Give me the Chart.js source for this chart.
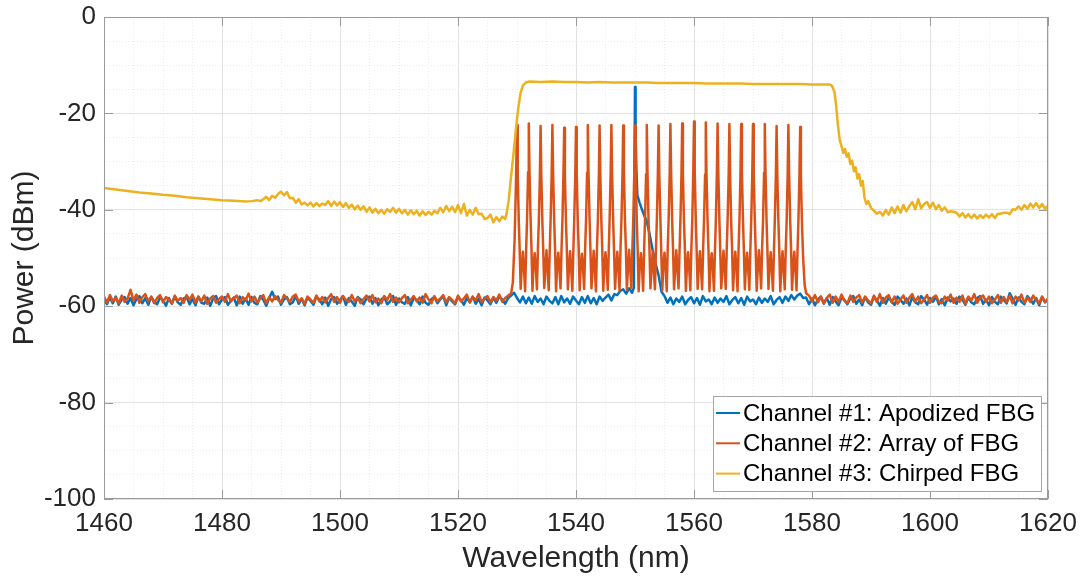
<!DOCTYPE html>
<html>
<head>
<meta charset="utf-8">
<script src="https://cdn.jsdelivr.net/npm/chart.js@4.4.1/dist/chart.umd.min.js"></script>
<style>
  html, body { margin: 0; padding: 0; background: #fff; }
</style>
</head>
<body>
<canvas id="spectrum" width="1081" height="581"></canvas>
<script>
"use strict";

const seriesNames = [
  "Channel #1: Apodized FBG",
  "Channel #2: Array of FBG",
  "Channel #3: Chirped FBG",
];
const seriesColors = ["#0072BD", "#D95319", "#EDB120"];

// noise floor sampling, shared by channel 1 and 2
const wlLow = [
  1460, 1460.5, 1461, 1461.5, 1462, 1462.5, 1463, 1463.5, 1464, 1464.5,
  1465, 1465.5, 1466, 1466.5, 1467, 1467.5, 1468, 1468.5, 1469, 1469.5,
  1470, 1470.5, 1471, 1471.5, 1472, 1472.5, 1473, 1473.5, 1474, 1474.5,
  1475, 1475.5, 1476, 1476.5, 1477, 1477.5, 1478, 1478.5, 1479, 1479.5,
  1480, 1480.5, 1481, 1481.5, 1482, 1482.5, 1483, 1483.5, 1484, 1484.5,
  1485, 1485.5, 1486, 1486.5, 1487, 1487.5, 1488, 1488.5, 1489, 1489.5,
  1490, 1490.5, 1491, 1491.5, 1492, 1492.5, 1493, 1493.5, 1494, 1494.5,
  1495, 1495.5, 1496, 1496.5, 1497, 1497.5, 1498, 1498.5, 1499, 1499.5,
  1500, 1500.5, 1501, 1501.5, 1502, 1502.5, 1503, 1503.5, 1504, 1504.5,
  1505, 1505.5, 1506, 1506.5, 1507, 1507.5, 1508, 1508.5, 1509, 1509.5,
  1510, 1510.5, 1511, 1511.5, 1512, 1512.5, 1513, 1513.5, 1514, 1514.5,
  1515, 1515.5, 1516, 1516.5, 1517, 1517.5, 1518, 1518.5, 1519, 1519.5,
  1520, 1520.5, 1521, 1521.5, 1522, 1522.5, 1523, 1523.5, 1524, 1524.5,
  1525, 1525.5, 1526, 1526.5, 1527, 1527.5, 1528, 1528.5, 1529,
];
const wlHigh = [
  1579, 1579.5, 1580, 1580.5, 1581, 1581.5, 1582, 1582.5, 1583, 1583.5,
  1584, 1584.5, 1585, 1585.5, 1586, 1586.5, 1587, 1587.5, 1588, 1588.5,
  1589, 1589.5, 1590, 1590.5, 1591, 1591.5, 1592, 1592.5, 1593, 1593.5,
  1594, 1594.5, 1595, 1595.5, 1596, 1596.5, 1597, 1597.5, 1598, 1598.5,
  1599, 1599.5, 1600, 1600.5, 1601, 1601.5, 1602, 1602.5, 1603, 1603.5,
  1604, 1604.5, 1605, 1605.5, 1606, 1606.5, 1607, 1607.5, 1608, 1608.5,
  1609, 1609.5, 1610, 1610.5, 1611, 1611.5, 1612, 1612.5, 1613, 1613.5,
  1614, 1614.5, 1615, 1615.5, 1616, 1616.5, 1617, 1617.5, 1618, 1618.5,
  1619, 1619.5, 1620,
];

// Channel #1: apodized FBG
const ch1LowPow = [
  -58.4, -59.6, -58.2, -59.4, -58.0, -59.7, -58.6, -58.1, -59.5, -58.3,
  -59.8, -58.5, -57.9, -59.4, -58.3, -59.7, -58.1, -59.0, -59.6, -58.2,
  -58.7, -59.9, -58.3, -59.5, -58.0, -59.2, -59.7, -58.4, -58.1, -59.6,
  -58.5, -59.8, -58.0, -59.3, -59.5, -58.2, -59.9, -58.4, -57.9, -59.6,
  -58.6, -58.1, -59.7, -58.9, -58.2, -59.8, -58.0, -59.5, -58.4, -59.7,
  -58.1, -59.3, -59.6, -57.9, -58.7, -59.9, -58.3, -57.0, -58.5, -58.0,
  -59.7, -58.6, -58.1, -59.6, -59.2, -57.9, -59.5, -58.4, -59.8, -58.2,
  -58.9, -59.7, -58.0, -58.6, -59.6, -58.2, -59.9, -58.5, -58.1, -59.5,
  -58.7, -57.9, -59.7, -58.3, -59.1, -59.9, -58.1, -58.6, -59.6, -58.4,
  -58.0, -59.5, -58.3, -59.8, -58.6, -58.1, -59.6, -59.0, -57.9, -59.7,
  -58.4, -59.2, -59.5, -58.1, -59.8, -58.3, -58.7, -59.6, -58.0, -59.3,
  -59.7, -58.5, -58.1, -59.4, -58.6, -57.9, -59.8, -58.2, -59.0, -59.6,
  -58.1, -58.7, -59.7, -58.3, -59.2, -58.0, -59.5, -58.5, -59.8, -58.2,
  -58.8, -59.6, -58.2, -59.3, -58.0, -58.6, -59.5, -58.3, -57.8,
];
const ch1MidWl = [
  1529.5, 1530, 1530.5, 1531, 1531.5, 1532, 1532.5, 1533, 1533.5, 1534,
  1534.5, 1535, 1535.5, 1536, 1536.5, 1537, 1537.5, 1538, 1538.5, 1539,
  1539.5, 1540, 1540.5, 1541, 1541.5, 1542, 1542.5, 1543, 1543.5, 1544,
  1544.5, 1545, 1545.5, 1546, 1546.5, 1547, 1547.5, 1548, 1548.5, 1549,
  1549.5,
  1549.8, 1549.9, 1550, 1550.1, 1550.25, 1550.4, 1550.8, 1551.2, 1551.6, 1552,
  1552.5, 1553, 1553.5, 1554, 1554.5,
  1555, 1555.5, 1556, 1556.5, 1557, 1557.5, 1558, 1558.5, 1559, 1559.5,
  1560, 1560.5, 1561, 1561.5, 1562, 1562.5, 1563, 1563.5, 1564, 1564.5,
  1565, 1565.5, 1566, 1566.5, 1567, 1567.5, 1568, 1568.5, 1569, 1569.5,
  1570, 1570.5, 1571, 1571.5, 1572, 1572.5, 1573, 1573.5, 1574, 1574.5,
  1575, 1575.5, 1576, 1576.5, 1577, 1577.5, 1578, 1578.5,
];
const ch1MidPow = [
  -57.2, -58.3, -59.2, -58.0, -59.4, -58.2, -59.5, -57.9, -59.1, -58.4,
  -59.6, -58.0, -58.9, -59.4, -58.1, -59.6, -57.9, -59.2, -58.4, -59.5,
  -58.0, -58.8, -59.6, -58.1, -59.3, -57.9, -59.4, -58.3, -59.6, -58.0,
  -58.9, -58.2, -57.6, -58.8, -57.5, -57.7, -56.8, -56.5, -57.4, -56.3,
  -57.2,
  -56.2, -35.0, -14.5, -24.0, -32.0, -37.0, -38.6, -40.0, -41.3, -42.4,
  -45.2, -48.4, -51.2, -53.6, -57.0,
  -57.9, -59.3, -58.2, -59.6, -58.4, -59.1, -58.0, -59.6, -58.7, -58.1,
  -59.4, -58.3, -59.7, -57.9, -59.0, -58.6, -59.6, -58.2, -59.3, -58.4,
  -59.1, -57.9, -59.6, -58.7, -58.1, -59.4, -58.3, -59.7, -58.0, -59.0,
  -58.6, -59.6, -58.2, -59.3, -58.4, -59.1, -57.9, -59.6, -58.7, -58.1,
  -59.3, -58.0, -58.9, -57.7, -58.6, -57.8, -57.4, -58.3,
];
const ch1HighPow = [
  -58.2, -59.6, -58.4, -59.8, -58.6, -58.0, -59.5, -58.3, -59.7, -58.1,
  -59.0, -59.8, -58.2, -58.7, -59.6, -58.4, -57.9, -59.5, -58.6, -59.8,
  -58.1, -59.2, -59.7, -58.0, -58.8, -59.9, -58.3, -59.5, -58.2, -59.1,
  -59.7, -58.0, -58.7, -59.5, -58.4, -59.8, -58.1, -59.2, -59.6, -57.9,
  -58.6, -59.7, -58.3, -59.1, -58.0, -59.6, -58.5, -59.8, -58.2, -59.0,
  -58.4, -59.5, -58.0, -58.7, -59.7, -58.2, -59.2, -59.6, -58.3, -57.9,
  -59.5, -58.6, -59.8, -58.1, -59.1, -59.6, -58.0, -58.7, -59.4, -57.3,
  -58.4, -59.7, -58.2, -59.1, -59.6, -57.9, -58.6, -59.5, -58.3, -59.8,
  -58.1, -59.2, -58.7,
];

// Channel #2: array of 25 FBGs, 2 nm apart
const ch2LowPow = [
  -58.0, -59.2, -57.7, -59.0, -58.2, -59.4, -57.8, -59.1, -58.4, -56.6,
  -58.8, -57.6, -59.3, -58.1, -57.5, -59.0, -58.0, -59.4, -58.3, -57.7,
  -59.2, -58.1, -58.6, -59.5, -57.8, -58.9, -58.3, -59.3, -57.7, -58.7,
  -57.6, -59.2, -58.0, -59.0, -57.8, -59.5, -58.4, -57.9, -59.3, -58.5,
  -58.0, -59.1, -57.5, -59.0, -58.3, -57.8, -59.4, -58.1, -58.8, -57.4,
  -59.0, -58.0, -59.2, -58.4, -57.7, -59.4, -58.1, -59.0, -57.9, -58.7,
  -59.3, -57.7, -58.4, -59.1, -58.0, -57.6, -59.0, -58.4, -59.5, -58.0,
  -58.6, -59.3, -57.8, -59.0, -58.1, -59.2, -58.3, -57.5, -59.1, -58.1,
  -59.3, -57.9, -58.7, -59.1, -57.7, -59.0, -58.2, -59.4, -58.5, -57.8,
  -59.0, -57.7, -59.2, -58.4, -59.4, -57.9, -58.7, -57.5, -59.1, -58.2,
  -59.2, -58.3, -57.7, -59.4, -58.6, -57.9, -59.0, -58.2, -59.3, -57.5,
  -58.6, -59.4, -57.9, -59.0, -58.4, -57.7, -59.2, -58.1, -58.7, -59.4,
  -57.8, -59.0, -58.4, -57.6, -59.2, -58.1, -58.8, -57.5, -59.1, -58.4,
  -57.9, -59.2, -58.1, -58.8, -57.6, -59.1, -58.3, -57.8, -57.4,
];
const ch2MidWl = [
  1529.3, 1529.6, 1529.85,
  1530, 1530.12, 1530.3, 1530.45, 1530.62, 1530.8, 1531, 1531.2, 1531.38, 1531.55, 1531.7, 1531.88,
  1532, 1532.12, 1532.3, 1532.45, 1532.62, 1532.8, 1533, 1533.2, 1533.38, 1533.55, 1533.7, 1533.88,
  1534, 1534.12, 1534.3, 1534.45, 1534.62, 1534.8, 1535, 1535.2, 1535.38, 1535.55, 1535.7, 1535.88,
  1536, 1536.12, 1536.3, 1536.45, 1536.62, 1536.8, 1537, 1537.2, 1537.38, 1537.55, 1537.7, 1537.88,
  1538, 1538.12, 1538.3, 1538.45, 1538.62, 1538.8, 1539, 1539.2, 1539.38, 1539.55, 1539.7, 1539.88,
  1540, 1540.12, 1540.3, 1540.45, 1540.62, 1540.8, 1541, 1541.2, 1541.38, 1541.55, 1541.7, 1541.88,
  1542, 1542.12, 1542.3, 1542.45, 1542.62, 1542.8, 1543, 1543.2, 1543.38, 1543.55, 1543.7, 1543.88,
  1544, 1544.12, 1544.3, 1544.45, 1544.62, 1544.8, 1545, 1545.2, 1545.38, 1545.55, 1545.7, 1545.88,
  1546, 1546.12, 1546.3, 1546.45, 1546.62, 1546.8, 1547, 1547.2, 1547.38, 1547.55, 1547.7, 1547.88,
  1548, 1548.12, 1548.3, 1548.45, 1548.62, 1548.8, 1549, 1549.2, 1549.38, 1549.55, 1549.7, 1549.88,
  1550, 1550.12, 1550.3, 1550.45, 1550.62, 1550.8, 1551, 1551.2, 1551.38, 1551.55, 1551.7, 1551.88,
  1552, 1552.12, 1552.3, 1552.45, 1552.62, 1552.8, 1553, 1553.2, 1553.38, 1553.55, 1553.7, 1553.88,
  1554, 1554.12, 1554.3, 1554.45, 1554.62, 1554.8, 1555, 1555.2, 1555.38, 1555.55, 1555.7, 1555.88,
  1556, 1556.12, 1556.3, 1556.45, 1556.62, 1556.8, 1557, 1557.2, 1557.38, 1557.55, 1557.7, 1557.88,
  1558, 1558.12, 1558.3, 1558.45, 1558.62, 1558.8, 1559, 1559.2, 1559.38, 1559.55, 1559.7, 1559.88,
  1560, 1560.12, 1560.3, 1560.45, 1560.62, 1560.8, 1561, 1561.2, 1561.38, 1561.55, 1561.7, 1561.88,
  1562, 1562.12, 1562.3, 1562.45, 1562.62, 1562.8, 1563, 1563.2, 1563.38, 1563.55, 1563.7, 1563.88,
  1564, 1564.12, 1564.3, 1564.45, 1564.62, 1564.8, 1565, 1565.2, 1565.38, 1565.55, 1565.7, 1565.88,
  1566, 1566.12, 1566.3, 1566.45, 1566.62, 1566.8, 1567, 1567.2, 1567.38, 1567.55, 1567.7, 1567.88,
  1568, 1568.12, 1568.3, 1568.45, 1568.62, 1568.8, 1569, 1569.2, 1569.38, 1569.55, 1569.7, 1569.88,
  1570, 1570.12, 1570.3, 1570.45, 1570.62, 1570.8, 1571, 1571.2, 1571.38, 1571.55, 1571.7, 1571.88,
  1572, 1572.12, 1572.3, 1572.45, 1572.62, 1572.8, 1573, 1573.2, 1573.38, 1573.55, 1573.7, 1573.88,
  1574, 1574.12, 1574.3, 1574.45, 1574.62, 1574.8, 1575, 1575.2, 1575.38, 1575.55, 1575.7, 1575.88,
  1576, 1576.12, 1576.3, 1576.45, 1576.62, 1576.8, 1577, 1577.2, 1577.38, 1577.55, 1577.7, 1577.88,
  1578, 1578.12, 1578.3, 1578.5, 1578.75,
];
const ch2MidPow = [
  -55.0, -46.0, -33.0,
  -22.4, -32.5, -42.3, -48.2, -56.4, -52.1, -48.7, -52.6, -56.9, -48.3, -42.1, -32.2,
  -22.1, -32.0, -41.8, -47.8, -56.8, -51.7, -49.0, -52.2, -56.5, -47.9, -42.4, -32.7,
  -22.6, -32.8, -42.5, -48.5, -56.2, -52.3, -48.4, -52.9, -56.7, -48.4, -41.9, -32.4,
  -22.4, -32.3, -42.0, -48.0, -56.9, -51.9, -48.9, -52.4, -56.3, -48.1, -42.2, -32.1,
  -23.0, -33.0, -42.6, -48.3, -56.5, -52.2, -48.6, -52.7, -56.8, -48.5, -42.0, -32.6,
  -22.8, -32.6, -42.2, -47.9, -56.7, -51.8, -49.1, -52.3, -56.4, -48.0, -42.3, -32.3,
  -22.4, -32.2, -41.9, -48.4, -56.3, -52.4, -48.5, -52.8, -56.9, -48.2, -42.5, -32.5,
  -22.5, -32.4, -42.4, -48.1, -56.8, -51.9, -48.8, -52.1, -56.6, -48.6, -41.8, -32.0,
  -22.4, -32.7, -42.1, -48.6, -56.4, -52.0, -48.7, -52.5, -56.7, -47.8, -42.1, -32.8,
  -22.5, -32.1, -42.3, -47.7, -56.6, -52.3, -48.3, -52.6, -56.2, -48.3, -42.4, -32.3,
  -22.5, -32.5, -42.0, -48.2, -56.9, -51.7, -49.0, -52.2, -56.8, -48.1, -42.0, -32.6,
  -22.4, -32.3, -42.5, -48.0, -56.3, -52.2, -48.6, -52.9, -56.5, -48.4, -42.3, -32.1,
  -22.5, -32.8, -41.8, -48.5, -56.7, -51.8, -48.9, -52.3, -56.9, -47.9, -41.9, -32.5,
  -22.2, -32.0, -42.2, -48.3, -56.5, -52.4, -48.4, -52.6, -56.3, -48.5, -42.2, -32.4,
  -22.1, -32.4, -42.4, -47.8, -56.8, -51.9, -48.8, -52.4, -56.7, -48.2, -42.5, -32.2,
  -21.7, -32.1, -41.9, -48.4, -56.4, -52.1, -48.6, -52.8, -56.5, -48.0, -42.0, -32.7,
  -21.9, -32.6, -42.3, -48.1, -56.9, -51.8, -49.0, -52.2, -56.8, -48.6, -42.3, -32.3,
  -22.1, -32.3, -42.0, -48.6, -56.3, -52.3, -48.5, -52.7, -56.4, -48.1, -41.8, -32.6,
  -22.2, -32.7, -42.5, -47.9, -56.7, -52.0, -48.7, -52.3, -56.9, -48.3, -42.4, -32.1,
  -22.2, -32.2, -42.1, -48.3, -56.5, -51.7, -48.9, -52.6, -56.6, -48.4, -42.1, -32.5,
  -22.2, -32.5, -41.9, -48.0, -56.8, -52.4, -48.4, -52.1, -56.3, -47.8, -42.4, -32.3,
  -22.2, -32.1, -42.4, -48.5, -56.4, -51.9, -48.8, -52.8, -56.8, -48.5, -42.0, -32.7,
  -22.6, -32.6, -42.2, -48.2, -56.9, -52.2, -48.6, -52.4, -56.5, -48.2, -42.3, -32.4,
  -22.4, -32.3, -42.0, -47.9, -56.6, -52.0, -48.7, -52.5, -56.7, -48.4, -42.1, -32.2,
  -22.8, -33.0, -43.0, -50.0, -55.5,
];
const ch2HighPow = [
  -57.3, -57.8, -59.0, -57.7, -59.2, -58.0, -59.4, -58.3, -57.6, -59.3,
  -58.0, -59.1, -57.6, -58.9, -59.4, -57.8, -59.1, -58.2, -57.7, -59.3,
  -58.0, -58.8, -59.4, -57.8, -59.1, -57.5, -59.3, -58.2, -57.7, -59.2,
  -58.0, -59.5, -58.6, -57.8, -59.3, -58.2, -57.5, -59.1, -58.0, -59.4,
  -58.6, -57.7, -59.3, -58.2, -57.8, -59.1, -59.4, -58.0, -58.8, -57.6,
  -59.3, -58.2, -59.1, -57.8, -59.5, -58.0, -58.8, -57.5, -59.3, -58.2,
  -57.8, -59.1, -58.0, -59.4, -58.6, -57.7, -59.3, -58.1, -59.1, -57.8,
  -59.4, -58.0, -58.8, -57.6, -59.3, -58.2, -59.1, -57.8, -58.7, -59.4,
  -58.0, -59.1, -58.4,
];

// Channel #3: chirped FBG
const ch3Wl = [
  1460, 1462, 1464, 1466, 1468, 1470, 1472, 1474, 1476, 1478,
  1480, 1482, 1484, 1485, 1486, 1486.5, 1487,
  1487.5, 1488, 1488.5, 1489, 1489.5, 1490, 1490.5, 1491, 1491.5, 1492,
  1492.5, 1493, 1493.5, 1494, 1494.5, 1495, 1495.5, 1496, 1496.5, 1497,
  1497.5, 1498, 1498.5, 1499, 1499.5, 1500, 1500.5, 1501, 1501.5, 1502,
  1502.5, 1503, 1503.5, 1504, 1504.5, 1505, 1505.5, 1506, 1506.5, 1507,
  1507.5, 1508, 1508.5, 1509, 1509.5, 1510, 1510.5, 1511, 1511.5, 1512,
  1512.5, 1513, 1513.5, 1514, 1514.5, 1515, 1515.5, 1516, 1516.5, 1517,
  1517.5, 1518, 1518.5, 1519, 1519.5, 1520, 1520.5, 1521, 1521.5, 1522,
  1522.5, 1523, 1523.5, 1524, 1524.5, 1525, 1525.5, 1526, 1526.5, 1527,
  1527.5, 1528,
  1528.2, 1528.6, 1529, 1529.4, 1529.8, 1530.2, 1530.6, 1531, 1531.5,
  1532, 1534, 1536, 1538, 1540, 1542, 1544, 1546, 1548, 1550,
  1552, 1554, 1556, 1558, 1560, 1562, 1564, 1566, 1568, 1570,
  1572, 1574, 1576, 1578, 1580, 1582, 1583, 1583.4,
  1583.8, 1584.1, 1584.4, 1584.7, 1585, 1585.3, 1585.6, 1585.9, 1586.2, 1586.5,
  1586.8, 1587.1, 1587.4, 1587.7, 1588, 1588.3, 1588.6, 1588.9, 1589.2, 1589.5,
  1590, 1590.5, 1591, 1591.5, 1592,
  1592.5, 1593, 1593.5, 1594, 1594.5, 1595, 1595.5, 1596, 1596.5, 1597,
  1597.5, 1598, 1598.5, 1599, 1599.5, 1600, 1600.5, 1601, 1601.5, 1602,
  1602.5, 1603, 1603.5, 1604, 1604.5, 1605, 1605.5, 1606, 1606.5, 1607,
  1607.5, 1608, 1608.5, 1609, 1609.5, 1610, 1610.5, 1611, 1611.5, 1612,
  1612.5, 1613, 1613.5, 1614, 1614.5, 1615, 1615.5, 1616, 1616.5, 1617,
  1617.5, 1618, 1618.5, 1619, 1619.5, 1620,
];
const ch3Pow = [
  -35.5, -35.8, -36.1, -36.4, -36.6, -36.9, -37.1, -37.4, -37.6, -37.8,
  -38.0, -38.1, -38.3, -38.2, -38.0, -38.2, -37.8,
  -37.3, -38.0, -37.1, -37.5, -36.7, -36.2, -37.0, -36.3, -37.6, -37.5,
  -38.5, -37.8, -38.9, -38.5, -39.1, -38.5, -39.3, -38.6, -39.2, -38.7,
  -39.0, -38.2, -39.2, -38.3, -39.1, -38.4, -39.4, -38.6, -39.6, -38.9,
  -39.9, -39.1, -40.0, -39.3, -40.4, -39.5, -40.6, -39.8, -40.7, -40.0,
  -40.8, -39.9, -40.4, -39.6, -40.6, -39.8, -40.7, -40.0, -41.0, -40.1,
  -40.9, -40.2, -41.2, -40.3, -41.1, -40.4, -41.0, -40.2, -40.7, -39.6,
  -40.5, -39.2, -40.3, -39.4, -40.5, -39.0, -40.7, -38.8, -41.2, -40.0,
  -41.0, -39.6, -40.9, -40.8, -41.9, -41.7, -41.0, -42.6, -41.5, -42.4,
  -41.4, -41.9,
  -41.0, -38.0, -33.0, -28.5, -23.5, -19.0, -15.8, -14.2, -13.6,
  -13.4, -13.5, -13.4, -13.5, -13.5, -13.6, -13.5, -13.6, -13.6, -13.6,
  -13.6, -13.7, -13.7, -13.7, -13.7, -13.8, -13.8, -13.8, -13.8, -13.9,
  -13.9, -13.9, -13.9, -13.9, -14.0, -14.0, -14.0, -14.3,
  -15.5, -18.5, -22.5, -25.5, -26.8, -28.2, -27.4, -29.0, -28.3, -30.5,
  -29.8, -32.0, -31.2, -33.5, -32.6, -35.0, -34.0, -37.5, -38.8, -38.2,
  -39.6, -40.2, -40.8, -40.4, -41.2,
  -40.0, -41.0, -39.5, -40.7, -39.3, -40.6, -39.0, -40.3, -39.2, -38.4,
  -39.9, -37.8, -39.7, -38.8, -38.4, -39.6, -38.5, -39.9, -39.0, -40.2,
  -39.5, -40.5, -40.3, -40.4, -40.6, -41.4, -40.7, -41.6, -40.9, -41.7,
  -41.0, -41.8, -41.1, -41.7, -41.0, -41.6, -40.9, -41.7, -40.8, -40.8,
  -40.6, -40.6, -40.9, -39.9, -40.0, -39.3, -40.0, -39.0, -39.8, -38.7,
  -39.5, -38.6, -39.6, -38.8, -39.8, -39.1,
];

const ch1Wl = [...wlLow, ...ch1MidWl, ...wlHigh];
const ch1Pow = [...ch1LowPow, ...ch1MidPow, ...ch1HighPow];
const ch2Wl = [...wlLow, ...ch2MidWl, ...wlHigh];
const ch2Pow = [...ch2LowPow, ...ch2MidPow, ...ch2HighPow];

const toPoints = (xs, ys) => xs.map((x, i) => ({ x: x, y: ys[i] }));

const FONT = '"Liberation Sans", Arial, Helvetica, sans-serif';
const TEXT = "#262626";
const AXIS = "#9a9a9a";
Chart.defaults.font.family = FONT;
Chart.defaults.color = TEXT;

const isMajor = (v) => Math.abs(v % 20) < 1e-6;

// box around the plot, inward tick marks and the legend inside the axes
const matlabAxes = {
  id: "matlabAxes",
  afterDraw(chart) {
    const { ctx, chartArea: a, scales } = chart;
    ctx.save();
    ctx.strokeStyle = AXIS;
    ctx.lineWidth = 1;
    ctx.beginPath();
    scales.x.ticks.forEach((t) => {
      if (!isMajor(t.value)) return;
      const px = Math.round(scales.x.getPixelForValue(t.value)) + 0.5;
      ctx.moveTo(px, a.bottom);
      ctx.lineTo(px, a.bottom - 9);
      ctx.moveTo(px, a.top);
      ctx.lineTo(px, a.top + 9);
    });
    scales.y.ticks.forEach((t) => {
      if (!isMajor(t.value)) return;
      const py = Math.round(scales.y.getPixelForValue(t.value)) + 0.5;
      ctx.moveTo(a.left, py);
      ctx.lineTo(a.left + 9, py);
      ctx.moveTo(a.right, py);
      ctx.lineTo(a.right - 9, py);
    });
    ctx.stroke();
    ctx.strokeRect(a.left + 0.5, a.top + 0.5, a.right - a.left - 1, a.bottom - a.top - 1);

    // legend
    const w = 328, h = 95;
    const lx = a.right - 7 - w, ly = a.bottom - 8 - h;
    ctx.fillStyle = "#ffffff";
    ctx.fillRect(lx, ly, w, h);
    ctx.strokeStyle = "#a6a6a6";
    ctx.strokeRect(lx + 0.5, ly + 0.5, w, h);
    ctx.font = "24px " + FONT;
    ctx.textBaseline = "middle";
    ctx.textAlign = "left";
    chart.data.datasets.forEach((ds, i) => {
      const cy = ly + 17 + i * 30.3;
      ctx.strokeStyle = ds.borderColor;
      ctx.lineWidth = 2;
      ctx.beginPath();
      ctx.moveTo(lx + 3, cy);
      ctx.lineTo(lx + 27, cy);
      ctx.stroke();
      ctx.fillStyle = "#000000";
      ctx.fillText(ds.label, lx + 30, cy + 1);
    });
    ctx.restore();
  },
};

const gridColor = (c) => (c.tick && isMajor(c.tick.value) ? "#e2e2e2" : "#ededed");
const gridDash = (c) => (c.tick && !isMajor(c.tick.value) ? [1, 2] : []);
const tickLabel = (v) => (isMajor(v) ? String(v) : "");

const datasets = [
  { label: seriesNames[0], data: toPoints(ch1Wl, ch1Pow), borderColor: seriesColors[0], order: 3 },
  { label: seriesNames[1], data: toPoints(ch2Wl, ch2Pow), borderColor: seriesColors[1], order: 2 },
  { label: seriesNames[2], data: toPoints(ch3Wl, ch3Pow), borderColor: seriesColors[2], order: 1 },
];

new Chart(document.getElementById("spectrum"), {
  type: "line",
  data: { datasets: datasets },
  options: {
    responsive: false,
    animation: false,
    layout: { padding: { left: 0, right: 33, top: 17, bottom: 0 } },
    elements: {
      point: { radius: 0 },
      line: { borderWidth: 2.5, tension: 0, borderJoinStyle: "round" },
    },
    plugins: {
      legend: { display: false },
      tooltip: { enabled: false },
    },
    scales: {
      x: {
        type: "linear",
        min: 1460,
        max: 1620,
        afterFit: (s) => {
          s.height = 82;
          s.paddingLeft = 0;
          s.paddingRight = 0;
        },
        ticks: {
          stepSize: 5,
          autoSkip: false,
          maxRotation: 0,
          padding: 9,
          color: TEXT,
          font: { size: 26 },
          callback: tickLabel,
        },
        grid: { color: gridColor, drawTicks: false, lineWidth: 1 },
        border: { display: false, dash: gridDash },
        title: {
          display: true,
          text: "Wavelength (nm)",
          color: TEXT,
          font: { size: 30 },
          padding: { top: 0, bottom: 4 },
        },
      },
      y: {
        min: -100,
        max: 0,
        afterFit: (s) => {
          s.width = 104;
          s.paddingTop = 0;
          s.paddingBottom = 0;
        },
        ticks: {
          stepSize: 5,
          autoSkip: false,
          padding: 8,
          color: TEXT,
          font: { size: 26 },
          callback: tickLabel,
        },
        grid: { color: gridColor, drawTicks: false, lineWidth: 1 },
        border: { display: false, dash: gridDash },
        title: {
          display: true,
          text: "Power (dBm)",
          color: TEXT,
          font: { size: 30 },
          padding: { top: 7, bottom: 0 },
        },
      },
    },
  },
  plugins: [matlabAxes],
});
</script>
</body>
</html>
